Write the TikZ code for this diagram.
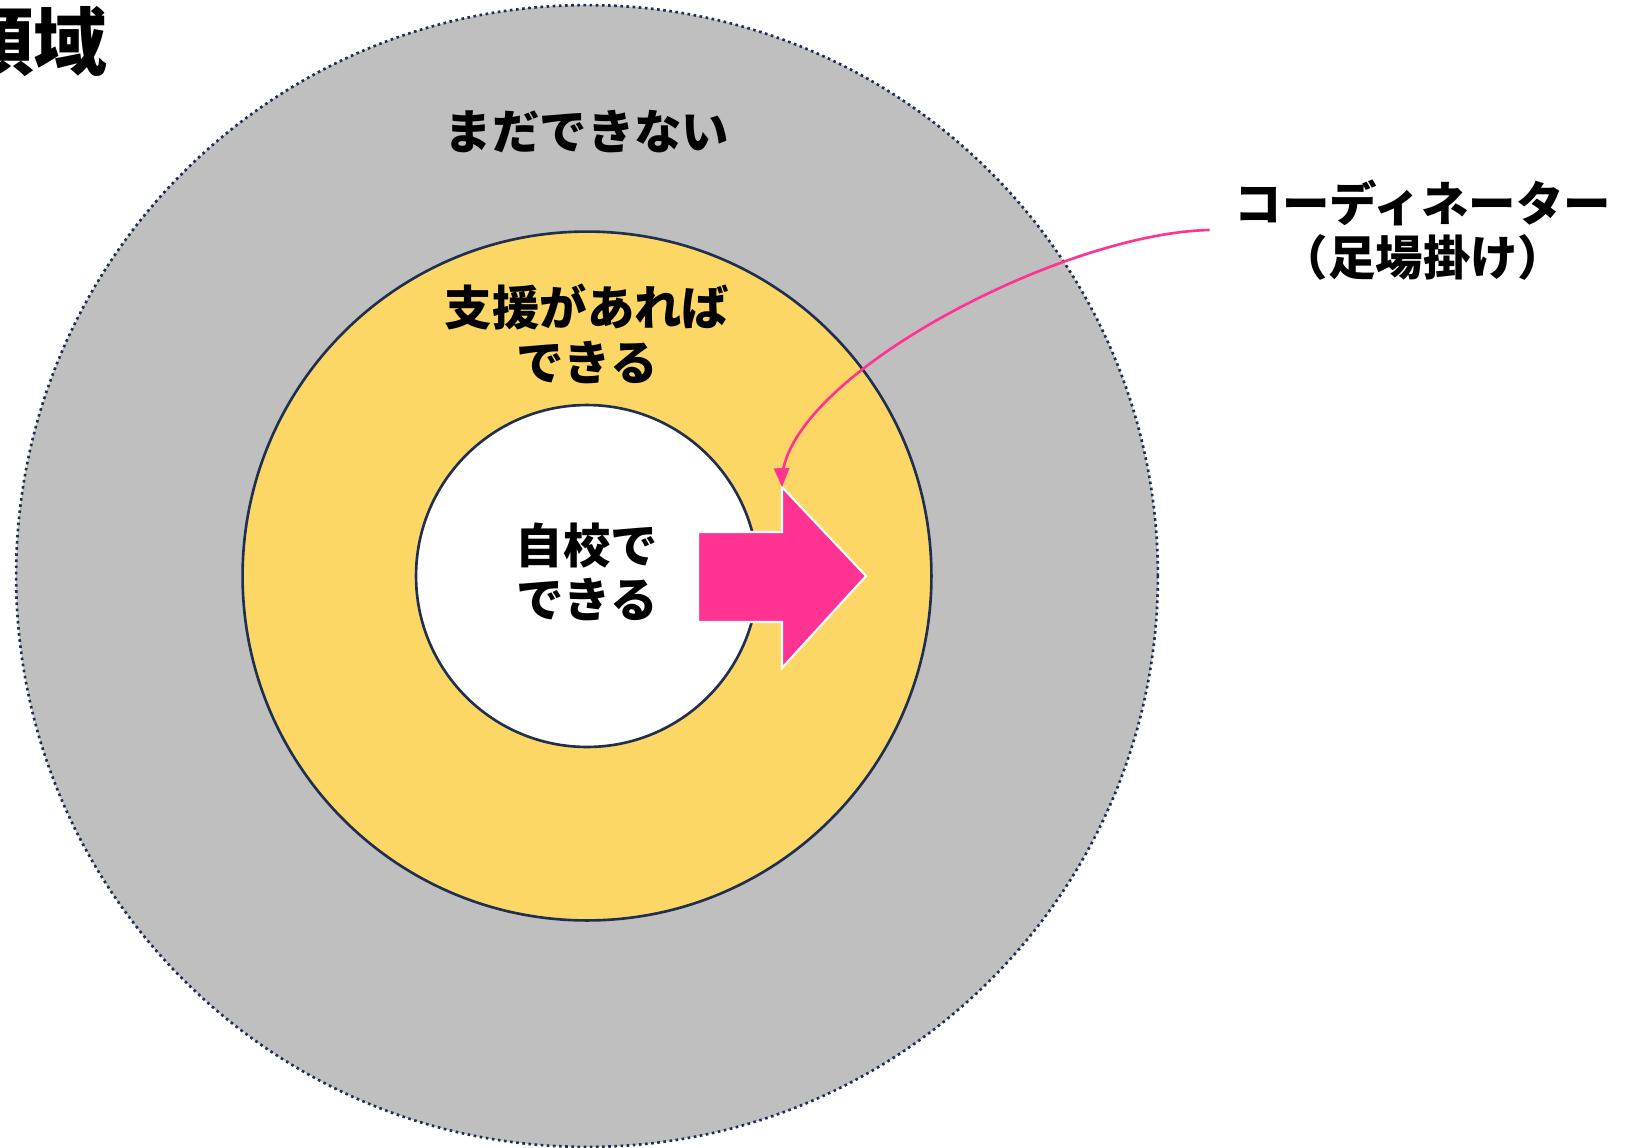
\documentclass[tikz,border=0pt]{standalone}
\usepackage{fontspec}
\setmainfont{Noto Sans CJK JP}
\usetikzlibrary{arrows}
\definecolor{outergray}{HTML}{BFBFBF}
\definecolor{midyellow}{HTML}{FDD766}
\definecolor{ringline}{HTML}{1F2F4F}
\definecolor{hotpink}{HTML}{FF3391}
\begin{document}
\begin{tikzpicture}[x=0.02cm, y=-0.02cm,
  ring/.style={circle, draw=ringline, line width=1.5pt, inner sep=0pt},
  lbl/.style={font=\bfseries\fontsize{27}{31}\selectfont, align=center, inner sep=0pt},
  conn/.style={draw=hotpink, line width=1.5pt, -triangle 45}]
  \useasboundingbox (0,0) rectangle (1627,1147);
  % three rings
  \node[ring, dotted, fill=outergray, minimum size=22.84cm] (outer) at (587,576) {};
  \node[ring, fill=midyellow, minimum size=13.78cm] (middle) at (587,576) {};
  \node[ring, fill=white, minimum size=6.84cm] (inner) at (587,576) {};
  % block arrow
  \draw[fill=hotpink, draw=white, line width=1.2pt] (698,532) -- (782,532) -- (782,487) coordinate (headtop)
    -- (866,576) -- (782,668) -- (782,622) -- (698,622) -- cycle;
  % labels
  \node[font=\bfseries\fontsize{42}{48}\selectfont, anchor=east, inner sep=0pt] (title) at (108,42) {領域};
  \node[lbl] (notyet) at (587,132) {まだできない};
  \node[lbl] (withhelp) at (587,334) {支援があれば\\できる};
  \node[lbl] (alone) at (587,572) {自校で\\できる};
  \node[lbl, inner xsep=0.5cm] (coord) at (1423,230) {コーディネーター\\（足場掛け）};
  \draw[conn] (coord.west) .. controls (1060,233) and (780,380) .. (headtop);
\end{tikzpicture}
\end{document}
